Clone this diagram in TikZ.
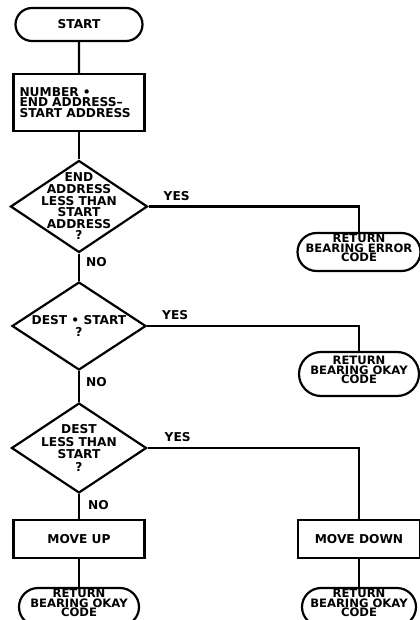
\documentclass[tikz,border=0pt]{standalone}
\usepackage{fontspec}
\setmainfont{DejaVu Sans}
\usetikzlibrary{shapes.geometric,shapes.misc}

\begin{document}
\begin{tikzpicture}[x=0.5pt,y=-0.5pt,line width=1.1pt,
font=\fontsize{6.1}{5.8}\selectfont\bfseries,
term/.style={draw,rounded rectangle,inner sep=0pt},
box/.style={draw,rectangle,inner sep=0pt,align=center},
ques/.style={draw,diamond,inner sep=0pt},
inside/.style={align=center,inner sep=0pt},
tight/.style={align=center,inner sep=0pt,yshift=2pt,font=\fontsize{5.8}{4.9}\selectfont\bfseries},
lbl/.style={inner sep=0pt}]
\useasboundingbox (0,0) rectangle (419,620);
% left column
\node[term,minimum width=63.5pt,minimum height=16.5pt] (start) at (79,24.5) {START};
\node[box,minimum width=65.5pt,minimum height=28.5pt,text width=59.5pt,align=left,
  font=\fontsize{6.1}{5.3}\selectfont\bfseries] (count) at (79,102.5) {NUMBER •\\END ADDRESS–\\START ADDRESS};
\node[ques,minimum width=68.5pt,minimum height=46pt,
  label={[inside]center:END\\ADDRESS\\LESS THAN\\START\\ADDRESS\\?}] (endless) at (79,206.5) {};
\node[ques,minimum width=67pt,minimum height=44pt,
  label={[inside]center:DEST • START\\?}] (same) at (79,326) {};
\node[ques,minimum width=67.5pt,minimum height=45pt,
  label={[inside,font=\fontsize{6.1}{6.2}\selectfont\bfseries]center:DEST\\LESS THAN\\START\\?}] (less) at (79,448) {};
\node[box,minimum width=65.5pt,minimum height=19pt] (up) at (79,539) {MOVE UP};
\node[term,minimum width=60pt,minimum height=19pt,
  label={[tight]center:RETURN\\BEARING OKAY\\CODE}] (okayb) at (79,607) {};
% right column
\node[term,minimum width=61.5pt,minimum height=19pt,
  label={[tight]center:RETURN\\BEARING ERROR\\CODE}] (error) at (359,252) {};
\node[term,minimum width=60pt,minimum height=22pt,
  label={[tight]center:RETURN\\BEARING OKAY\\CODE}] (okaya) at (359,374) {};
\node[box,minimum width=61pt,minimum height=19pt] (down) at (359,539) {MOVE DOWN};
\node[term,minimum width=57pt,minimum height=19pt,
  label={[tight]center:RETURN\\BEARING OKAY\\CODE}] (okayc) at (359,607) {};
% connectors
\draw (start) -- (count);
\draw (count) -- (endless);
\draw (endless.east) node[lbl,anchor=south west,xshift=7pt,yshift=2.5pt] {YES} -| (error.north);
\draw (endless.south) node[lbl,anchor=north west,xshift=3pt,yshift=-1.5pt] {NO} -- (same.north);
\draw (same.east) node[lbl,anchor=south west,xshift=7pt,yshift=2.5pt] {YES} -| (okaya.north);
\draw (same.south) node[lbl,anchor=north west,xshift=3pt,yshift=-2.5pt] {NO} -- (less.north);
\draw (less.east) node[lbl,anchor=south west,xshift=8pt,yshift=2.5pt] {YES} -| (down.north);
\draw (less.south) node[lbl,anchor=north west,xshift=4pt,yshift=-2.5pt] {NO} -- (up.north);
\draw (up) -- (okayb);
\draw (down) -- (okayc);
\end{tikzpicture}
\end{document}
